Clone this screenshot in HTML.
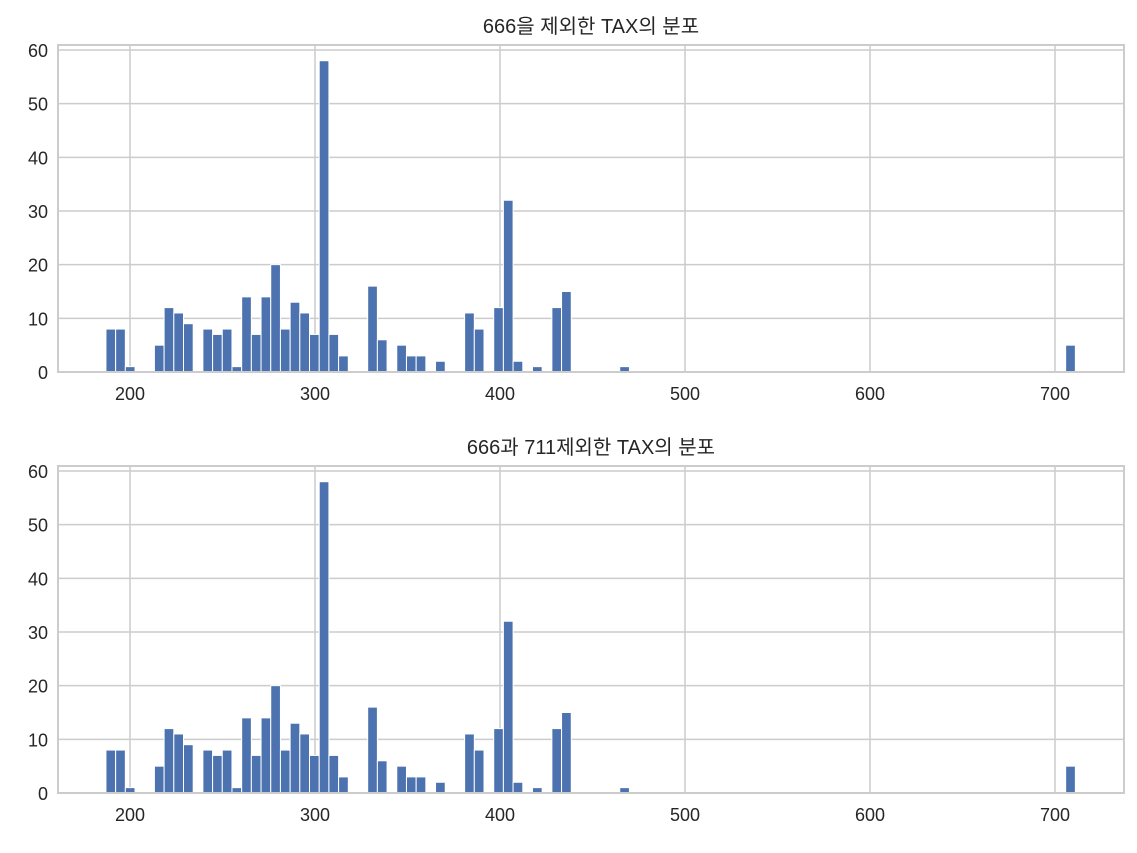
<!DOCTYPE html>
<html><head><meta charset="utf-8">
<style>
body{margin:0;background:#fff;}
svg text{font-family:"Liberation Sans","Noto Sans CJK KR",sans-serif;fill:#262626;}
</style></head>
<body>
<svg id="chart" width="1137" height="848" xmlns="http://www.w3.org/2000/svg"></svg>
<script>
const counts=[8,8,1,0,0,5,12,11,9,0,8,7,8,1,14,7,14,20,8,13,11,7,58,7,3,0,0,16,6,0,5,3,3,0,2,0,0,11,8,0,12,32,2,0,1,0,12,15,0,0,0,0,0,1,0,0,0,0,0,0,0,0,0,0,0,0,0,0,0,0,0,0,0,0,0,0,0,0,0,0,0,0,0,0,0,0,0,0,0,0,0,0,0,0,0,0,0,0,0,5];
const xTicks=[200,300,400,500,600,700];
const yTicks=[0,10,20,30,40,50,60];
const titles=["666을 제외한 TAX의 분포","666과 711제외한 TAX의 분포"];
const minV=187, maxV=711, nBins=100;
const NS="http://www.w3.org/2000/svg";
const svg=document.getElementById('chart');
function mk(tag,attrs,parent){const e=document.createElementNS(NS,tag);for(const k in attrs)e.setAttribute(k,attrs[k]);parent.appendChild(e);return e;}
const panels=[{top:45,bottom:372},{top:466,bottom:793}];
const L=58,R=1124;
function xs(v){return 130+(v-200)*1.85;}
panels.forEach((p,pi)=>{
  const g=mk('g',{},svg);
  
  
  function ys(v){return p.bottom-v*5.367;}
  yTicks.forEach(t=>{
    const ln=mk('line',{x1:L,x2:R,y1:ys(t),y2:ys(t),stroke:'#cccccc','stroke-width':1.5},g);
    
    
    const tx=mk('text',{x:L-10,y:ys(t)+7,'text-anchor':'end','font-size':18},g);
    tx.textContent=t;
    
    
  });
  xTicks.forEach(t=>{
    const ln=mk('line',{x1:xs(t),x2:xs(t),y1:p.top,y2:p.bottom,stroke:'#cccccc','stroke-width':1.5},g);
    
    
    const tx=mk('text',{x:xs(t),y:p.bottom+28,'text-anchor':'middle','font-size':18},g);
    tx.textContent=t;
    
    
  });
  const w=(maxV-minV)/nBins;
  counts.forEach((c,i)=>{
    if(c<=0)return;
    const x0=xs(minV+i*w),x1=xs(minV+(i+1)*w);
    const r=mk('rect',{x:x0,y:ys(c),width:x1-x0,height:p.bottom-ys(c),fill:'#4c72b0',stroke:'#ffffff','stroke-width':1},g);
    
    
  });
  const fr=mk('rect',{x:L,y:p.top,width:R-L,height:p.bottom-p.top,fill:'none',stroke:'#cccccc','stroke-width':2},g);
  
  
  const tt=mk('text',{x:(L+R)/2,y:p.top-12,'text-anchor':'middle','font-size':20},g);
  tt.textContent=titles[pi];
  
  
});
</script>
</body></html>
